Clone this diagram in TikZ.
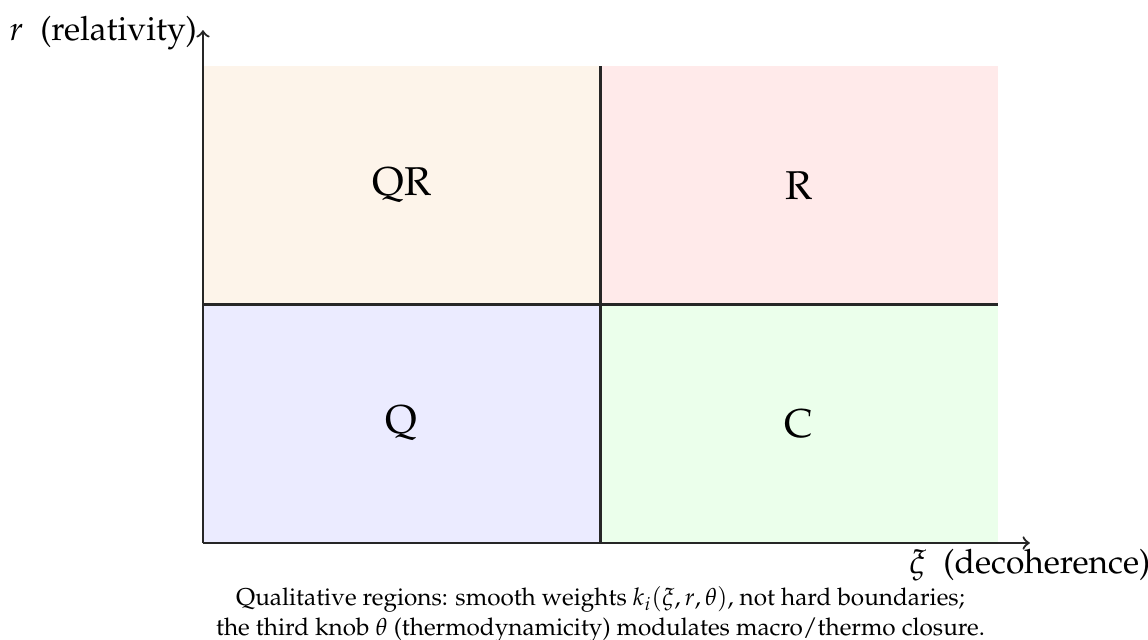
\documentclass[tikz,border=0pt]{standalone}
\usepackage[T1]{fontenc}
\usepackage{mathpazo}
\definecolor{qrfill}{HTML}{FDF4EA}
\definecolor{rfill}{HTML}{FFEAEA}
\definecolor{qfill}{HTML}{EBEBFF}
\definecolor{cfill}{HTML}{EBFFEB}
\tikzset{
  divline/.style={draw=black!85, line width=0.8pt},
  axisline/.style={draw=black!85, line width=0.8pt, ->},
  regionlabel/.style={font=\Large},
  axislabel/.style={font=\large},
}
\begin{document}
\begin{tikzpicture}[x=1cm,y=1cm]
\useasboundingbox (-2.553,-1.22) rectangle (11.887,6.83);
\fill[qrfill] (0,3) rectangle (5,6);
\fill[rfill] (5,3) rectangle (10,6);
\fill[qfill] (0,0) rectangle (5,3);
\fill[cfill] (5,0) rectangle (10,3);
\coordinate (o) at (0,0);
\coordinate (xend) at (10.4,0);
\coordinate (yend) at (0,6.45);
\coordinate (vt) at (5,6);
\coordinate (vb) at (5,0);
\coordinate (hl) at (0,3);
\coordinate (hr) at (10,3);
\draw[divline] (vb) -- (vt);
\draw[divline] (hl) -- (hr);
\draw[axisline] (o) -- (xend);
\draw[axisline] (o) -- (yend);
\node[axislabel, below, inner sep=2pt] (xl) at (xend) {$\xi$\ \ (decoherence)};
\node[axislabel, left, inner sep=2pt] (yl) at (0,6.41) {$r$\ \ (relativity)};
\node[regionlabel] (qr) at (2.5,4.5) {QR};
\node[regionlabel] (r) at (7.5,4.5) {R};
\node[regionlabel] (q) at (2.5,1.5) {Q};
\node[regionlabel] (c) at (7.5,1.5) {C};
\node[align=center, font=\fontsize{8.7}{10.8}\selectfont] (cap) at (5,-0.9) {Qualitative regions: smooth weights $k_i(\xi,r,\theta)$, not hard boundaries;\\the third knob $\theta$ (thermodynamicity) modulates macro/thermo closure.};
\end{tikzpicture}
\end{document}
